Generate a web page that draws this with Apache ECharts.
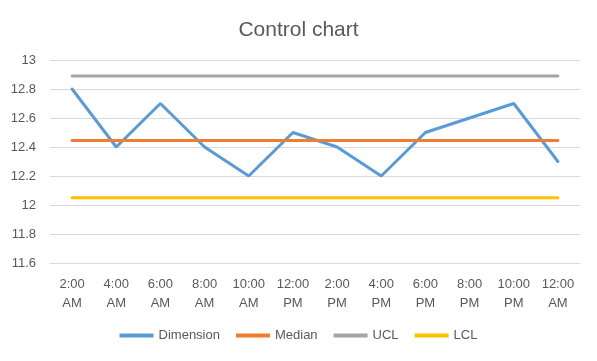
<!DOCTYPE html>
<html><head><meta charset="utf-8">
<script src="https://cdn.jsdelivr.net/npm/echarts@6/dist/echarts.min.js"></script>
<style>html,body{margin:0;padding:0;background:#fff}#c{width:597px;height:361px}</style>
</head><body><div id="c"></div>
<script>
const categories = ["2:00\nAM","4:00\nAM","6:00\nAM","8:00\nAM","10:00\nAM","12:00\nPM","2:00\nPM","4:00\nPM","6:00\nPM","8:00\nPM","10:00\nPM","12:00\nAM"];
const dimension = [12.8,12.4,12.7,12.4,12.2,12.5,12.4,12.2,12.5,12.6,12.7,12.3];
const median = [12.445,12.445,12.445,12.445,12.445,12.445,12.445,12.445,12.445,12.445,12.445,12.445];
const ucl = [12.89,12.89,12.89,12.89,12.89,12.89,12.89,12.89,12.89,12.89,12.89,12.89];
const lcl = [12.05,12.05,12.05,12.05,12.05,12.05,12.05,12.05,12.05,12.05,12.05,12.05];
const FONT = "Liberation Sans";
const chart = echarts.init(document.getElementById('c'));
function ser(name, data, color){
  return {name, type:'line', data, symbol:'none', lineStyle:{width:3, color, cap:'round'}, itemStyle:{color}};
}
chart.setOption({
  animation:false,
  textStyle:{fontFamily:FONT},
  title:{text:'Control chart', left:'center', top:15, textStyle:{fontFamily:FONT, fontSize:21, fontWeight:'normal', color:'#595959'}},
  grid:{left:50, right:17, top:60, bottom:98},
  legend:{top:324, itemWidth:34, itemHeight:4, itemGap:16, icon:'rect',
    textStyle:{fontFamily:FONT, fontSize:13, color:'#595959'},
    data:['Dimension','Median','UCL','LCL']},
  xAxis:{type:'category', data:categories, boundaryGap:true,
    axisLine:{lineStyle:{color:'#d9d9d9'}}, axisTick:{show:false},
    axisLabel:{color:'#595959', fontSize:13, lineHeight:19, margin:12, interval:0}},
  yAxis:{type:'value', min:11.6, max:13, interval:0.2,
    axisLine:{show:false}, axisTick:{show:false},
    splitLine:{lineStyle:{color:'#d9d9d9'}},
    axisLabel:{color:'#595959', fontSize:13, margin:14, formatter:v=>String(Math.round(v*10)/10)}},
  series:[ser('Dimension',dimension,'#5B9BD5'), ser('Median',median,'#ED7D31'), ser('UCL',ucl,'#A5A5A5'), ser('LCL',lcl,'#FFC000')]
});
</script></body></html>
